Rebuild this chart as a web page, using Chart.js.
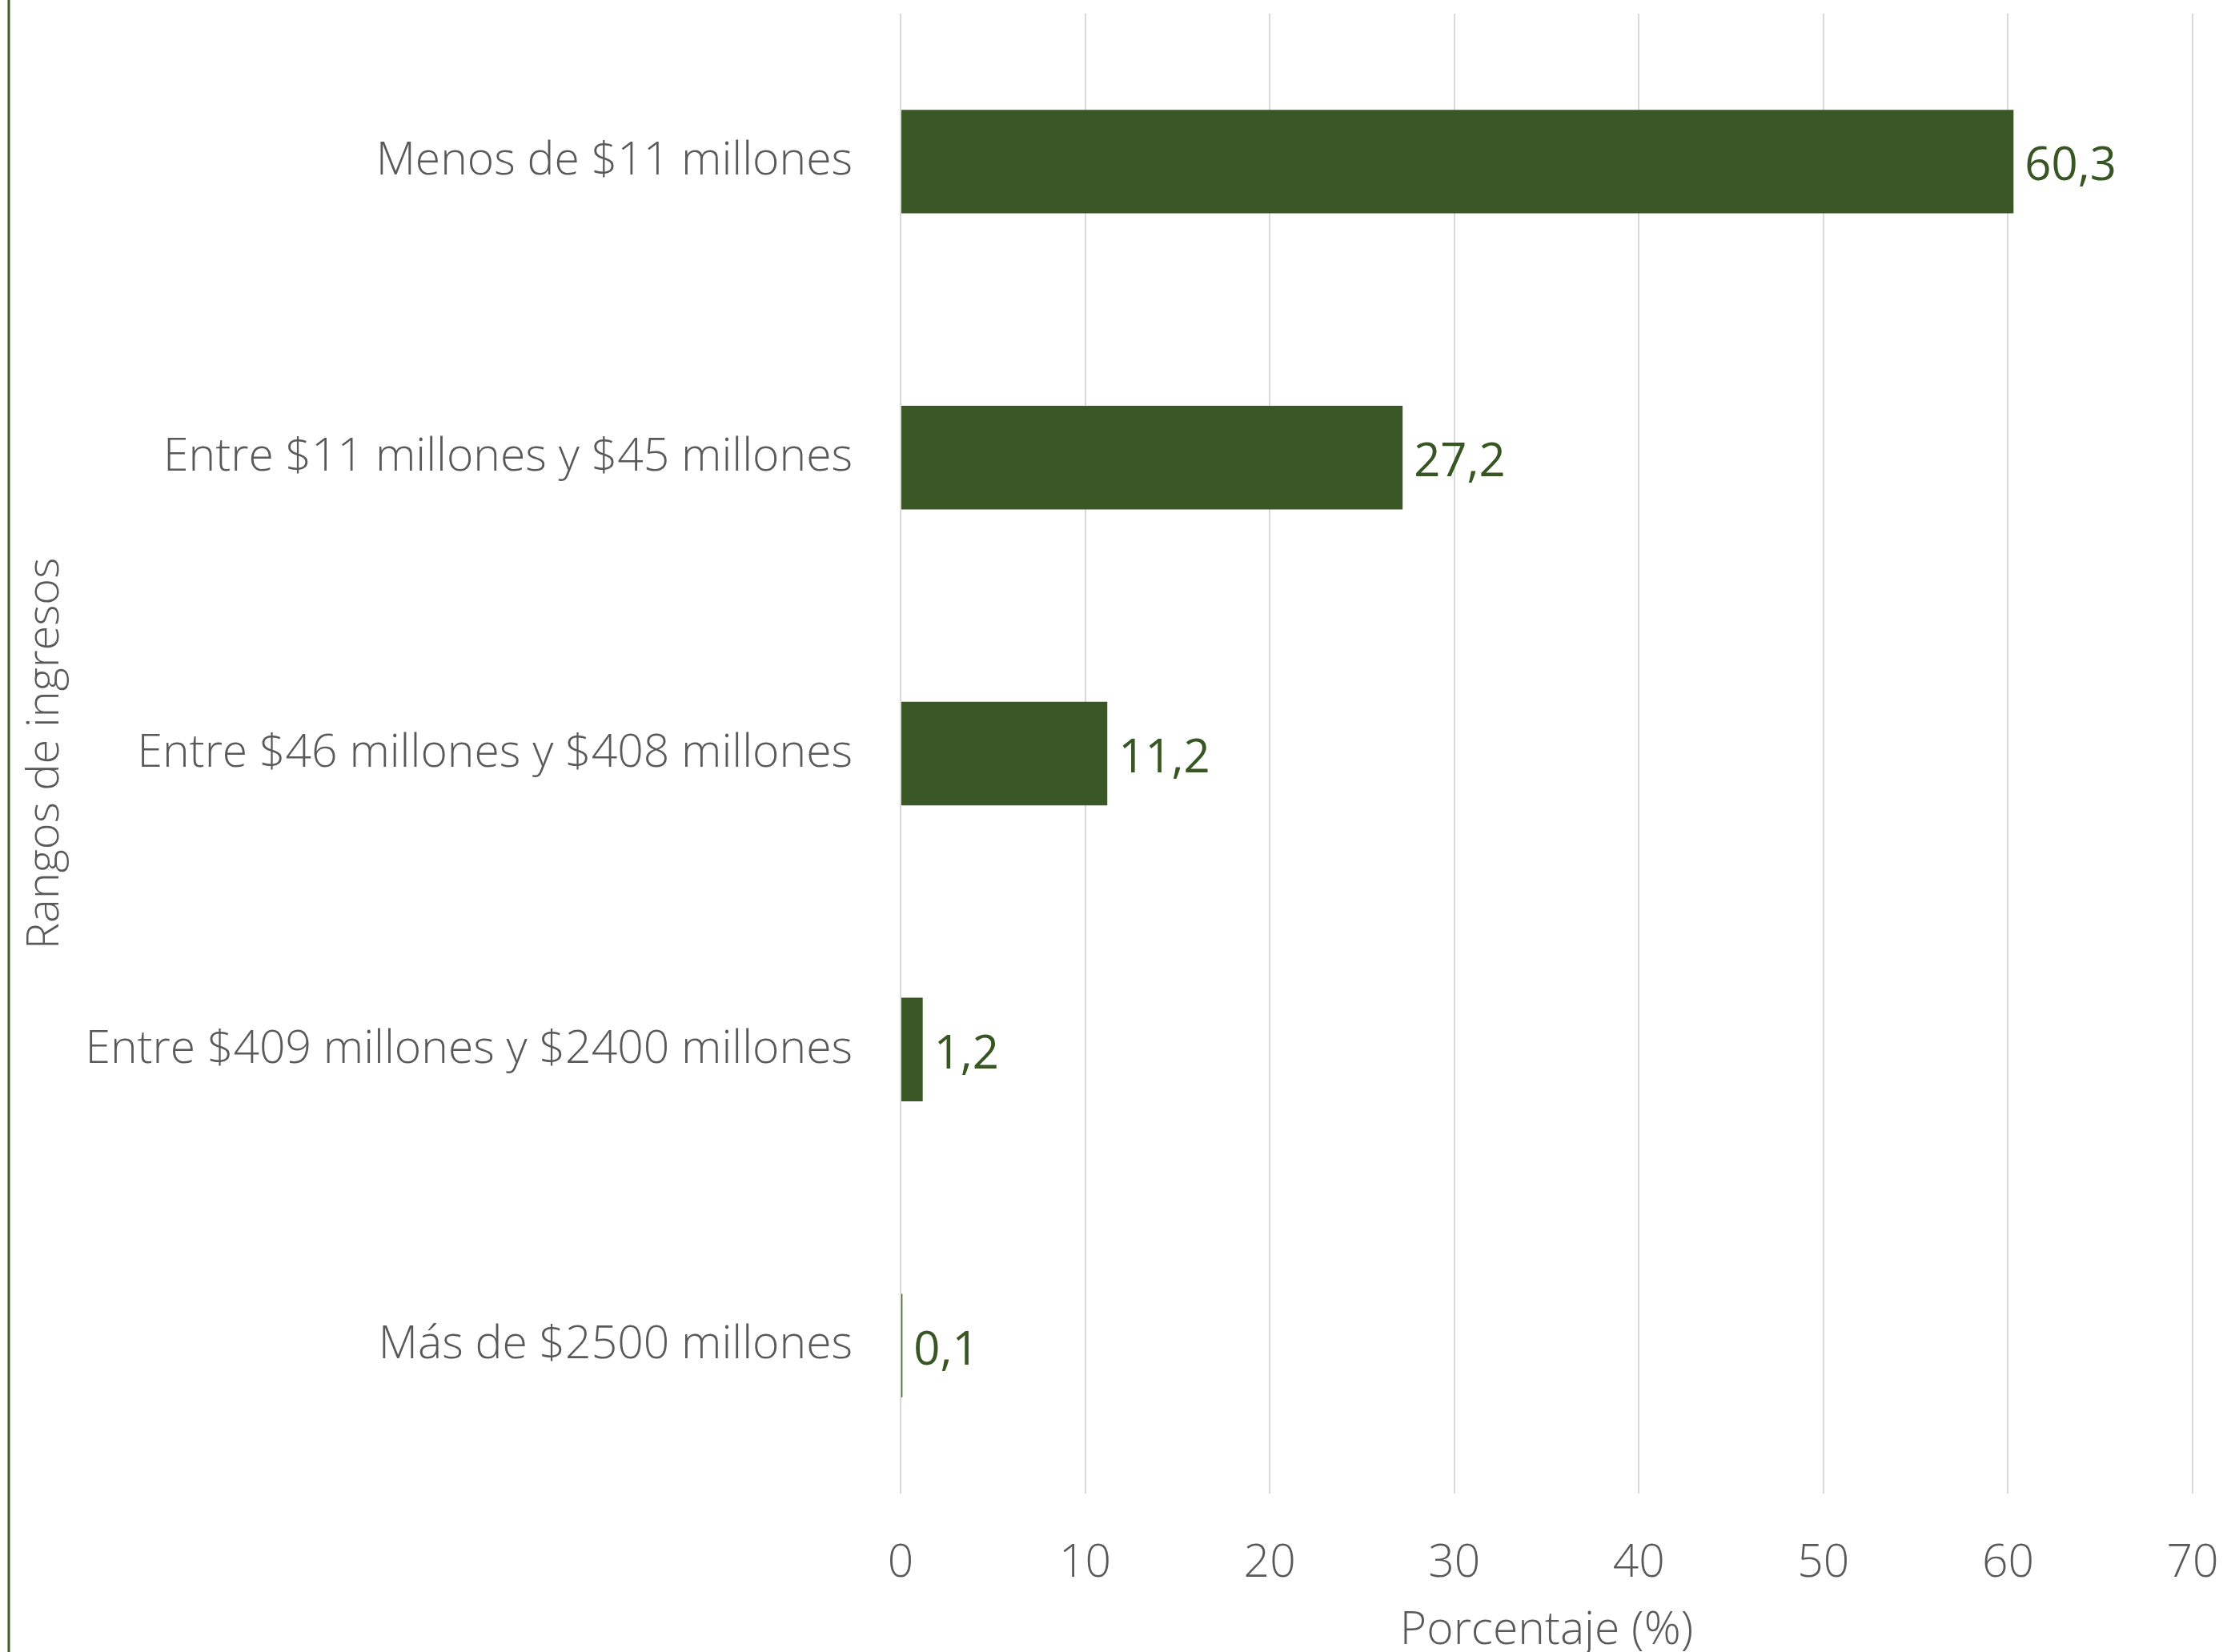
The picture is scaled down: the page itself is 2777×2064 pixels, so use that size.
<!DOCTYPE html>
<html lang="es">
<head>
<meta charset="utf-8">
<title>Rangos de ingresos</title>
<script src="https://cdn.jsdelivr.net/npm/chart.js@4.4.1/dist/chart.umd.min.js"></script>
<style>
  html, body { margin: 0; padding: 0; background: #ffffff; }
  #wrap { width: 2777px; height: 2064px; }
</style>
</head>
<body>
<div id="wrap"><canvas id="ingresosChart" width="2777" height="2064"></canvas></div>
<script>
// datos del gráfico
const categories = [
  'Menos de $11 millones',
  'Entre $11 millones y $45 millones',
  'Entre $46 millones y $408 millones',
  'Entre $409 millones y $2400 millones',
  'Más de $2500 millones'
];
const percentages = [60.3, 27.2, 11.2, 1.2, 0.1];
const xTickValues = [0, 10, 20, 30, 40, 50, 60, 70];

const GREEN = '#3a5726';
const GREY_TEXT = '#595959';
const FONT = '"Open Sans", "Noto Sans", sans-serif';

// coma decimal como en el original
function formatComma(v) {
  return v.toFixed(1).replace('.', ',');
}

// sin márgenes extra por etiquetas que sobresalen
function noOverflowPadding(scale) {
  scale.paddingTop = 0;
  scale.paddingBottom = 0;
  scale.paddingLeft = 0;
  scale.paddingRight = 0;
}

// etiquetas de valor al final de cada barra
const valueLabels = {
  id: 'valueLabels',
  afterDatasetsDraw(chart) {
    const ctx = chart.ctx;
    const meta = chart.getDatasetMeta(0);
    ctx.save();
    ctx.font = '400 58px ' + FONT;
    ctx.fillStyle = '#375623';
    ctx.textAlign = 'left';
    ctx.textBaseline = 'middle';
    meta.data.forEach((bar, i) => {
      ctx.fillText(formatComma(percentages[i]), bar.x + 14, bar.y + 7);
    });
    ctx.restore();
  }
};

// borde verde a la izquierda del área del gráfico
const leftBorder = {
  id: 'leftBorder',
  beforeDraw(chart) {
    const ctx = chart.ctx;
    ctx.save();
    ctx.fillStyle = '#ffffff';
    ctx.fillRect(0, 0, chart.width, chart.height);
    ctx.strokeStyle = '#3d5a2a';
    ctx.lineWidth = 3;
    ctx.beginPath();
    ctx.moveTo(11, 0);
    ctx.lineTo(11, chart.height);
    ctx.stroke();
    ctx.restore();
  }
};

new Chart(document.getElementById('ingresosChart'), {
  type: 'bar',
  data: {
    labels: categories,
    datasets: [{
      label: 'Porcentaje (%)',
      data: percentages,
      backgroundColor: GREEN,
      borderWidth: 0,
      categoryPercentage: 1,
      barPercentage: 0.35
    }]
  },
  options: {
    indexAxis: 'y',
    responsive: false,
    animation: false,
    devicePixelRatio: 1,
    layout: {
      padding: { top: 17, right: 38, left: 0, bottom: 0 }
    },
    plugins: {
      legend: { display: false },
      tooltip: { enabled: false }
    },
    scales: {
      x: {
        min: 0,
        max: 70,
        afterBuildTicks(scale) {
          scale.ticks = xTickValues.map(v => ({ value: v }));
        },
        afterFit(scale) {
          scale.height = 198;
          noOverflowPadding(scale);
        },
        grid: {
          color: '#d9d9d9',
          lineWidth: 2,
          drawTicks: false
        },
        border: { display: false },
        ticks: {
          padding: 54,
          color: GREY_TEXT,
          font: { family: FONT, size: 57, weight: 300 }
        },
        title: {
          display: true,
          text: 'Porcentaje (%)',
          color: GREY_TEXT,
          padding: { top: 0, bottom: -2 },
          font: { family: FONT, size: 57, weight: 300, lineHeight: 1 }
        }
      },
      y: {
        afterFit(scale) {
          scale.width = 1125;
          noOverflowPadding(scale);
        },
        grid: { display: false, drawTicks: false },
        border: { display: false },
        ticks: {
          padding: 60,
          color: GREY_TEXT,
          font: { family: FONT, size: 57, weight: 300, lineHeight: 1.3 }
        },
        title: {
          display: true,
          text: 'Rangos de ingresos',
          color: GREY_TEXT,
          padding: { top: 29, bottom: 0 },
          font: { family: FONT, size: 56, weight: 300, lineHeight: 1 }
        }
      }
    }
  },
  plugins: [leftBorder, valueLabels]
});
</script>
</body>
</html>
